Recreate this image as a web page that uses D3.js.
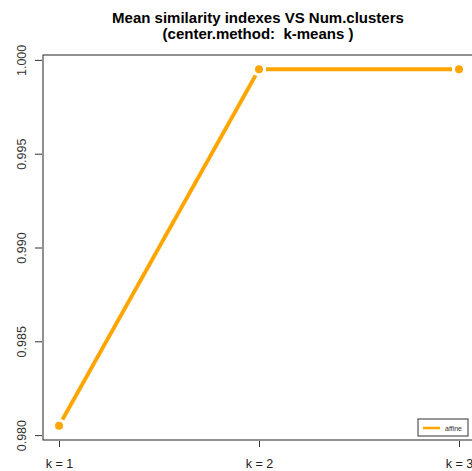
<!DOCTYPE html>
<html>
<head>
<meta charset="utf-8">
<script src="https://cdn.jsdelivr.net/npm/d3@7"></script>
<style>
  html, body { margin: 0; padding: 0; background: #fff; }
  svg { display: block; }
  .title { white-space: pre; }
</style>
</head>
<body>
<svg id="chart" width="472" height="471"></svg>
<script>
// Number of clusters and mean similarity index per k
const clusters = [1, 2, 3];
const clusterLabels = ["k = 1", "k = 2", "k = 3"];
const similarity = [0.9805, 0.9995, 0.9995];
const yTicks = [0.980, 0.985, 0.990, 0.995, 1.000];
const seriesName = "affine";
const titleLines = ["Mean similarity indexes VS Num.clusters", "(center.method:  k-means )"];

const color = "#FFA500";
const plot = { left: 43, right: 475, top: 55, bottom: 440 };

const svg = d3.select("#chart");

// R-style 4% padding on both axes
function padded(lo, hi) { const d = (hi - lo) * 0.04; return [lo - d, hi + d]; }

const x = d3.scaleLinear()
  .domain(padded(d3.min(clusters), d3.max(clusters)))
  .range([plot.left, plot.right]);
const y = d3.scaleLinear()
  .domain(padded(d3.min(similarity), d3.max(similarity)))
  .range([plot.bottom, plot.top]);

// Title
svg.append("g").selectAll("text")
  .data(titleLines).join("text")
  .attr("class", "title")
  .attr("x", (plot.left + plot.right) / 2 - 1)
  .attr("y", (d, i) => 22.5 + i * 16)
  .attr("text-anchor", "middle")
  .attr("font-family", "Liberation Sans, Arial, sans-serif")
  .attr("font-weight", "bold")
  .attr("font-size", 15)
  .attr("fill", "#000")
  .text(d => d);

// Plot frame
svg.append("rect")
  .attr("x", plot.left).attr("y", plot.top)
  .attr("width", plot.right - plot.left).attr("height", plot.bottom - plot.top)
  .attr("fill", "none").attr("stroke", "#222").attr("stroke-width", 1);

// Left axis with rotated labels
const yAxis = svg.append("g")
  .attr("transform", `translate(${plot.left - 1},0)`)
  .call(d3.axisLeft(y).tickValues(yTicks).tickFormat(d3.format(".3f")).tickSize(7).tickPadding(0));
yAxis.select(".domain").remove();
yAxis.selectAll("line").attr("stroke", "#333");
yAxis.selectAll("text")
  .attr("font-family", "Liberation Sans, Arial, sans-serif")
  .attr("font-size", 12.5)
  .attr("fill", "#333")
  .attr("text-anchor", "middle")
  .attr("x", null).attr("dy", null)
  .attr("transform", "translate(-16,0) rotate(-90)");

// Bottom axis
const xAxis = svg.append("g")
  .attr("transform", `translate(0,${plot.bottom + 1})`)
  .call(d3.axisBottom(x).tickValues(clusters).tickFormat((d, i) => clusterLabels[i]).tickSize(6).tickPadding(12));
xAxis.select(".domain").remove();
xAxis.selectAll("line").attr("stroke", "#333");
xAxis.selectAll("text")
  .attr("font-family", "Liberation Sans, Arial, sans-serif")
  .attr("font-size", 12.5)
  .attr("fill", "#222");

// Line segments with gaps around the points (type "b")
const pts = clusters.map((k, i) => [x(k), y(similarity[i])]);
const gap = 7;
const segs = d3.pairs(pts).map(([a, b]) => {
  const dx = b[0] - a[0], dy = b[1] - a[1];
  const len = Math.hypot(dx, dy);
  const ux = dx / len, uy = dy / len;
  return [a[0] + ux * gap, a[1] + uy * gap, b[0] - ux * gap, b[1] - uy * gap];
});
svg.append("g").selectAll("line")
  .data(segs).join("line")
  .attr("x1", d => d[0]).attr("y1", d => d[1])
  .attr("x2", d => d[2]).attr("y2", d => d[3])
  .attr("stroke", color).attr("stroke-width", 4);

svg.append("g").selectAll("circle")
  .data(pts).join("circle")
  .attr("cx", d => d[0]).attr("cy", d => d[1])
  .attr("r", 4).attr("fill", color);

// Legend
const lg = svg.append("g").attr("transform", "translate(418,419)");
lg.append("rect").attr("width", 50).attr("height", 17)
  .attr("fill", "#fff").attr("stroke", "#333").attr("stroke-width", 1);
lg.append("line").attr("x1", 5).attr("x2", 22).attr("y1", 9).attr("y2", 9)
  .attr("stroke", color).attr("stroke-width", 2.5);
lg.append("text").attr("x", 27).attr("y", 11.5)
  .attr("font-family", "Liberation Sans, Arial, sans-serif")
  .attr("font-size", 7).attr("fill", "#333")
  .text(seriesName);
</script>
</body>
</html>
